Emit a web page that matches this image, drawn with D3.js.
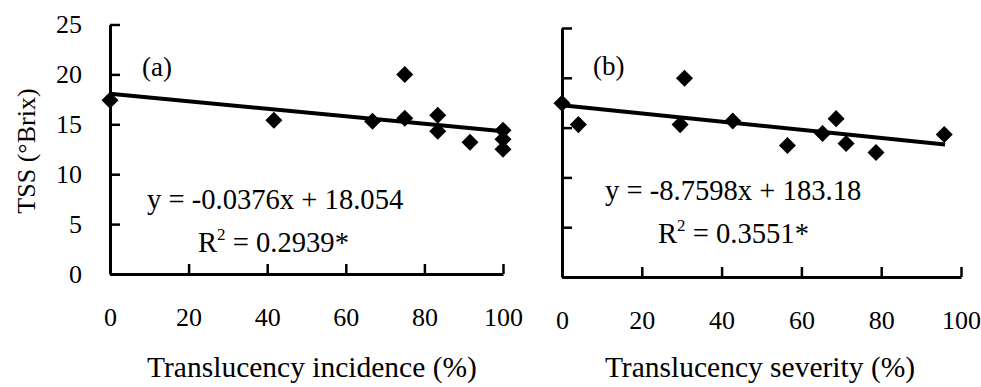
<!DOCTYPE html>
<html>
<head>
<meta charset="utf-8">
<script src="https://cdn.jsdelivr.net/npm/d3@7"></script>
<style>
  body { margin: 0; background: #fff; }
  svg text { font-family: "Liberation Serif", "Times New Roman", serif; fill: #000; }
</style>
</head>
<body>
<div id="chart"></div>
<script>
// data
var xTicks = [0, 20, 40, 60, 80, 100];
var yTicks = [0, 5, 10, 15, 20, 25];

var incidence = [0, 41.7, 66.8, 75, 75, 83.4, 83.4, 91.6, 100, 100, 100];
var tssA      = [17.4, 15.4, 15.3, 20, 15.6, 15.9, 14.3, 13.2, 14.4, 13.5, 12.5];

var severity  = [0, 4.1, 29.6, 30.7, 42.8, 56.5, 65.3, 68.7, 71.2, 78.7, 95.8];
var tssB      = [17.45, 15.3, 15.3, 19.95, 15.66, 13.2, 14.4, 15.9, 13.4, 12.5, 14.3];

// fitted lines (start x, end x, start y, end y)
var trendA = [0, 100, 18.054, 18.054 - 0.0376 * 100];
var trendB = [0, 96, 17.25, 13.3];

var width = 981, height = 387;

var svg = d3.select("#chart")
    .append("svg")
    .attr("width", width)
    .attr("height", height);

var diamond = d3.symbol().type(d3.symbolSquare).size(145);

function panel(opt) {
    var x = d3.scaleLinear().domain([0, 100]).range(opt.xr);
    var y = d3.scaleLinear().domain([0, 25]).range(opt.yr);
    var g = svg.append("g");

    var xAxis = g.append("g")
        .attr("transform", "translate(0," + opt.yr[0] + ")")
        .call(d3.axisBottom(x).tickValues(xTicks).tickSizeInner(-10).tickSizeOuter(0).tickPadding(34));

    var yAxis = g.append("g")
        .attr("transform", "translate(" + opt.xr[0] + ",0)")
        .call(d3.axisLeft(y).tickValues(yTicks).tickSizeInner(-10).tickSizeOuter(0).tickPadding(28)
            .tickFormat(opt.yLabels ? d3.format("d") : ""));

    [xAxis, yAxis].forEach(function(a) {
        a.select(".domain").attr("stroke-width", 3);
        a.selectAll(".tick line").attr("stroke-width", 2.5);
        a.selectAll("text").attr("font-size", 26).attr("font-family", null);
    });

    // trend line
    g.append("line")
        .attr("x1", x(opt.trend[0])).attr("x2", x(opt.trend[1]))
        .attr("y1", y(opt.trend[2])).attr("y2", y(opt.trend[3]))
        .attr("stroke", "#000")
        .attr("stroke-width", 4);

    // points
    g.selectAll("path.pt")
        .data(opt.xs)
        .enter()
        .append("path")
            .attr("class", "pt")
            .attr("d", diamond)
            .attr("transform", (d, i) => "translate(" + x(d) + "," + y(opt.ys[i]) + ") rotate(45)")
            .attr("fill", "#000");

    g.append("text")
        .attr("x", opt.tag[0]).attr("y", opt.tag[1])
        .attr("font-size", 27)
        .text(opt.tag[2]);

    g.append("text")
        .attr("x", opt.eq[0]).attr("y", opt.eq[1])
        .attr("font-size", 28.6)
        .text(opt.eq[2]);

    var r2 = g.append("text")
        .attr("x", opt.r2[0]).attr("y", opt.r2[1])
        .attr("font-size", 28.6);
    r2.append("tspan").text("R");
    r2.append("tspan").attr("font-size", 17).attr("dy", -12).text("2");
    r2.append("tspan").attr("dy", 12).text(" = " + opt.r2[2]);

    g.append("text")
        .attr("x", opt.title[0]).attr("y", 377)
        .attr("text-anchor", "middle")
        .attr("font-size", 29.5)
        .text(opt.title[1]);
}

panel({
    xr: [110, 503], yr: [274, 24.5], yLabels: true,
    xs: incidence, ys: tssA, trend: trendA,
    tag: [142, 76, "(a)"],
    eq: [147, 209, "y = -0.0376x + 18.054"],
    r2: [198, 252, "0.2939*"],
    title: [312, "Translucency incidence (%)"]
});

panel({
    xr: [562, 961], yr: [277, 28], yLabels: false,
    xs: severity, ys: tssB, trend: trendB,
    tag: [593, 75, "(b)"],
    eq: [605, 200, "y = -8.7598x + 183.18"],
    r2: [658, 243, "0.3551*"],
    title: [760, "Translucency severity (%)"]
});

svg.append("text")
    .attr("transform", "translate(35,151) rotate(-90)")
    .attr("text-anchor", "middle")
    .attr("font-size", 26)
    .text("TSS (°Brix)");
</script>
</body>
</html>
